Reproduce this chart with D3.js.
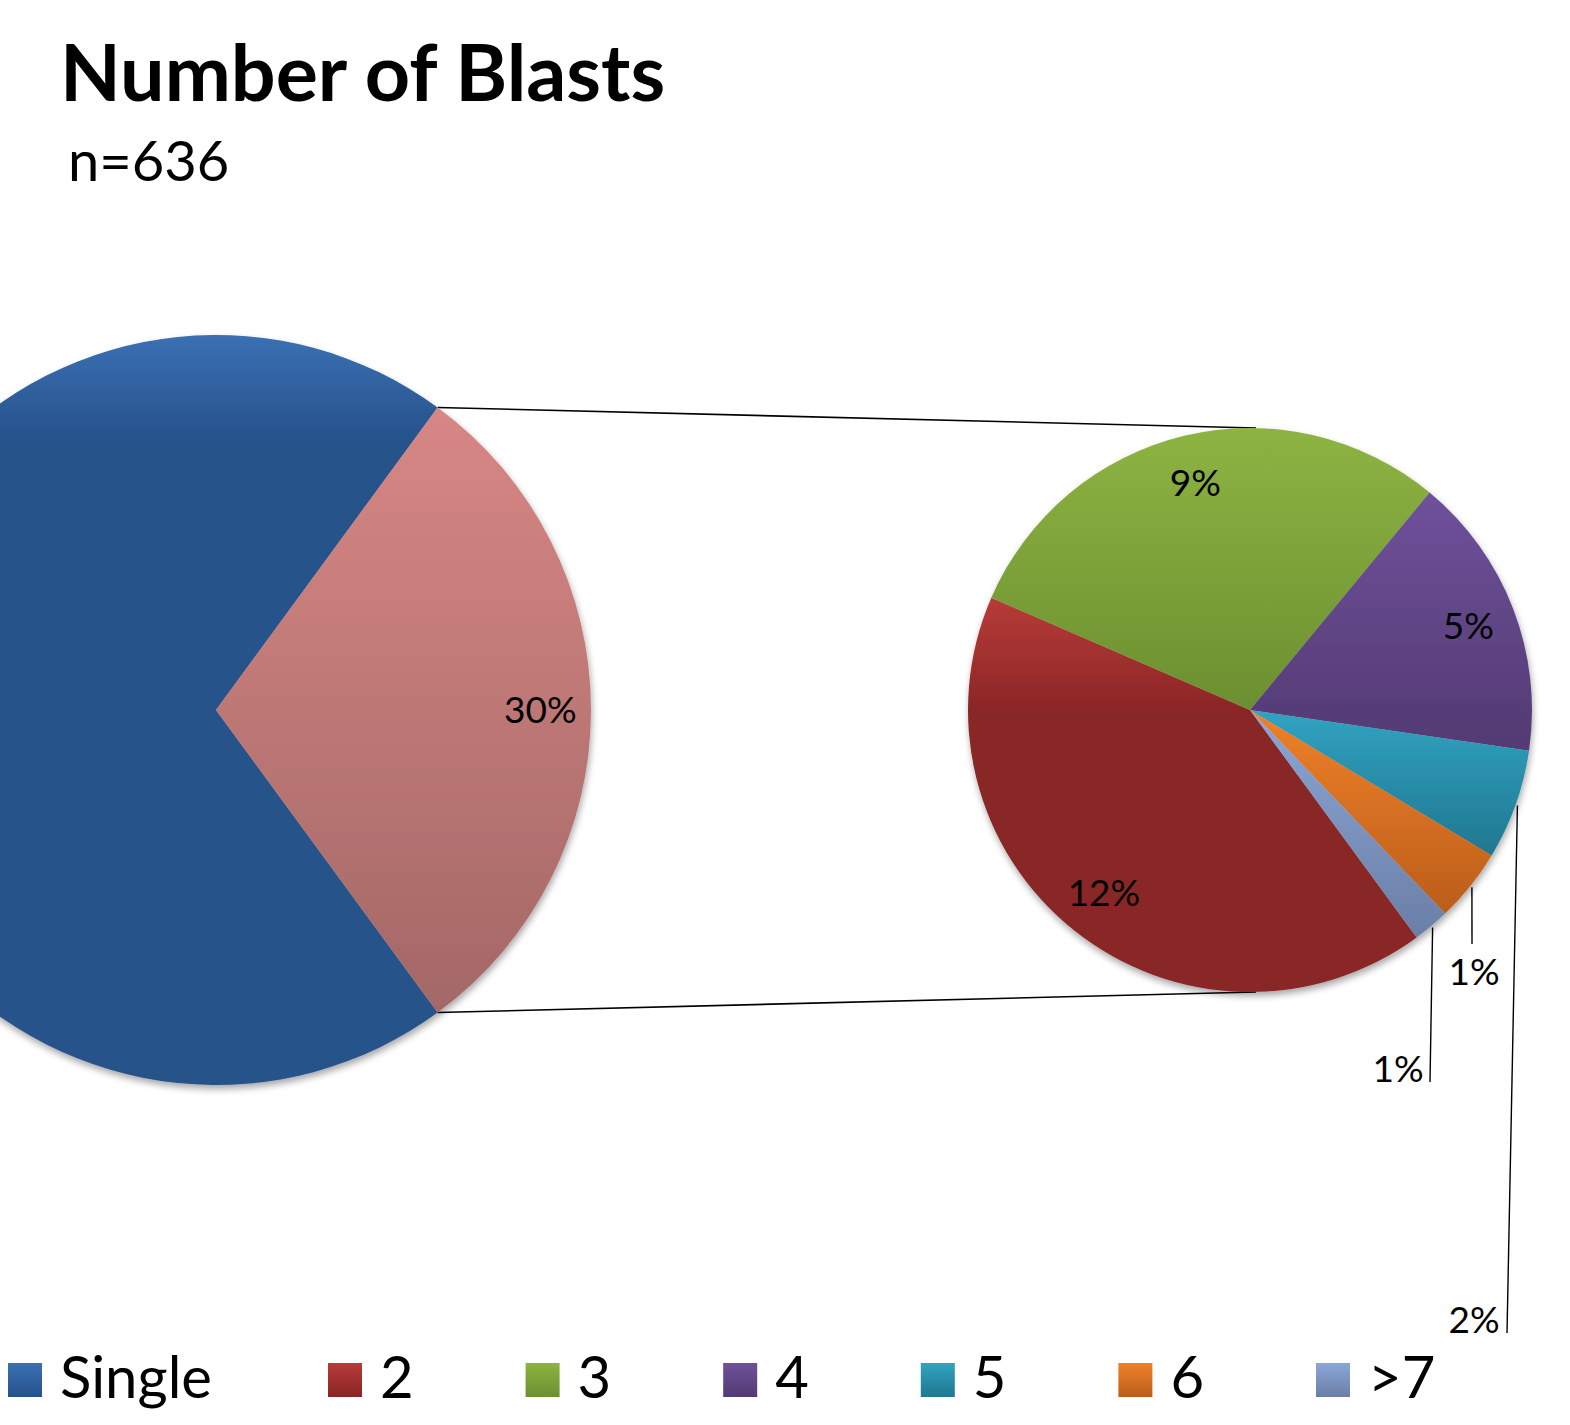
<!DOCTYPE html>
<html>
<head>
<meta charset="utf-8">
<script src="https://cdn.jsdelivr.net/npm/d3@7"></script>
<style>
  html, body { margin: 0; padding: 0; background: #ffffff; }
  svg { display: block; font-family: Lato, "Open Sans", sans-serif; }
</style>
</head>
<body>
<svg id="chart" width="1570" height="1425"></svg>
<script>
// Number of blasts per case (n = 636)
const categories = ["Single", "2", "3", "4", "5", "6", ">7"];
const counts = [446, 79, 56, 31, 12, 8, 4];
const otherName = "Other";

const titleText = "Number of Blasts";
const subtitleText = "n=636";

// Fill styles: light top colour, dark bottom colour, offset where the dark colour is reached
const fills = {
  "Single": { light: "#3a70b4", dark: "#26528a", end: 0.14 },
  "Other":  { light: "#d78785", dark: "#a36866", end: 1 },
  "2":      { light: "#b83b38", dark: "#892525", end: 0.3 },
  "3":      { light: "#8db442", dark: "#6c8f30", end: 1 },
  "4":      { light: "#6f519b", dark: "#523a72", end: 1 },
  "5":      { light: "#31a3c2", dark: "#1f778f", end: 1 },
  "6":      { light: "#ef8128", dark: "#bb5d1b", end: 1 },
  ">7":     { light: "#8ba7d8", dark: "#6a7fa6", end: 1 }
};

const W = 1570, H = 1425;
const svg = d3.select("#chart");
const defs = svg.append("defs");

// soft drop shadow under the pies
const shadow = defs.append("filter").attr("id", "pieShadow")
  .attr("x", "-10%").attr("y", "-10%").attr("width", "120%").attr("height", "125%");
shadow.append("feGaussianBlur").attr("in", "SourceAlpha").attr("stdDeviation", 3.5).attr("result", "blur");
shadow.append("feOffset").attr("in", "blur").attr("dx", 1).attr("dy", 4).attr("result", "off");
shadow.append("feComponentTransfer").attr("in", "off").attr("result", "shade")
  .append("feFuncA").attr("type", "linear").attr("slope", 0.35);
const merge = shadow.append("feMerge");
merge.append("feMergeNode").attr("in", "shade");
merge.append("feMergeNode").attr("in", "SourceGraphic");

function gradId(name, kind) { return "g-" + kind + "-" + (name === ">7" ? "gt7" : name); }
function addGradient(name, kind, end) {
  const f = fills[name];
  const g = defs.append("linearGradient").attr("id", gradId(name, kind))
    .attr("x1", 0).attr("y1", 0).attr("x2", 0).attr("y2", 1);
  g.append("stop").attr("offset", 0).attr("stop-color", f.light);
  g.append("stop").attr("offset", end).attr("stop-color", f.dark);
  g.append("stop").attr("offset", 1).attr("stop-color", f.dark);
}
Object.keys(fills).forEach(k => { addGradient(k, "slice", fills[k].end); addGradient(k, "key", 1); });

const total = d3.sum(counts);
const pct = v => Math.round(v / total * 100) + "%";

// split into the main pie (first category + "Other") and the secondary pie
const mainData = [
  { name: categories[0], value: counts[0] },
  { name: otherName, value: d3.sum(counts.slice(1)) }
];
const subData = categories.slice(1).map((c, i) => ({ name: c, value: counts[i + 1] }));
const otherFrac = mainData[1].value / total;
const start = Math.PI / 2 + otherFrac * Math.PI;

// geometry
const main = { cx: 216, cy: 710, r: 375, labelK: 0.865 };
const sub  = { cx: 1250, cy: 710, r: 282, labelK: 0.83 };

const pie = d3.pie().sort(null).value(d => d.value).startAngle(start).endAngle(start + 2 * Math.PI);
const mainArcs = pie(mainData);
const subArcs = pie(subData);

// connector lines from the "Other" slice edges to the secondary pie
const otherArc = mainArcs[1];
const edgePt = (c, a) => [c.cx + c.r * Math.sin(a), c.cy - c.r * Math.cos(a)];
const pTop = edgePt(main, otherArc.startAngle);
const pBot = edgePt(main, otherArc.endAngle);
svg.append("line").attr("x1", pTop[0]).attr("y1", pTop[1]).attr("x2", sub.cx + 6).attr("y2", sub.cy - sub.r)
  .attr("stroke", "#000").attr("stroke-width", 1.6);
svg.append("line").attr("x1", pBot[0]).attr("y1", pBot[1]).attr("x2", sub.cx + 6).attr("y2", sub.cy + sub.r)
  .attr("stroke", "#000").attr("stroke-width", 1.6);

function drawPie(conf, arcs) {
  const g = svg.append("g").attr("transform", `translate(${conf.cx},${conf.cy})`);
  const arc = d3.arc().innerRadius(0).outerRadius(conf.r);
  g.append("g").attr("filter", "url(#pieShadow)")
    .selectAll("path").data(arcs).join("path")
    .attr("d", arc)
    .attr("fill", d => `url(#${gradId(d.data.name, "slice")})`);
  return g;
}

const mainG = drawPie(main, mainArcs);
const subG = drawPie(sub, subArcs);

// labels placed inside the slices
const labelFont = 37;
function innerLabel(g, conf, d) {
  const la = d3.arc().innerRadius(conf.r * conf.labelK).outerRadius(conf.r * conf.labelK);
  const [x, y] = la.centroid(d);
  g.append("text").attr("x", x).attr("y", y).attr("dy", "0.36em")
    .attr("text-anchor", "middle").attr("font-size", labelFont).attr("fill", "#000")
    .text(pct(d.data.value));
}
innerLabel(mainG, main, mainArcs[1]);

// small slices get their labels outside with leader lines
const outside = {
  "5":  { x: 1474, y: 1333, lx: 1507, ly: 1333 },
  "6":  { x: 1474, y: 985,  lx: 1472, ly: 944 },
  ">7": { x: 1398, y: 1082, lx: 1430, ly: 1082 }
};
subArcs.forEach(d => {
  const o = outside[d.data.name];
  if (!o) { innerLabel(subG, sub, d); return; }
  const mid = (d.startAngle + d.endAngle) / 2;
  const p = edgePt({ cx: sub.cx, cy: sub.cy, r: sub.r + 2 }, mid);
  svg.append("line").attr("x1", p[0]).attr("y1", p[1]).attr("x2", o.lx).attr("y2", o.ly)
    .attr("stroke", "#000").attr("stroke-width", 1.4);
  svg.append("text").attr("x", o.x).attr("y", o.y)
    .attr("text-anchor", "middle").attr("font-size", labelFont).attr("fill", "#000")
    .text(pct(d.data.value));
});

// title
svg.append("text").attr("x", 60).attr("y", 101)
  .attr("font-size", 79).attr("font-weight", 700).attr("fill", "#000").text(titleText);
svg.append("text").attr("x", 68).attr("y", 181)
  .attr("font-size", 56).attr("fill", "#000").text(subtitleText);

// legend
const legend = svg.append("g");
const keyX = i => i === 0 ? 8 : 328 + (i - 1) * 197.6;
const items = legend.selectAll("g").data(categories).join("g")
  .attr("transform", (d, i) => `translate(${keyX(i)},1363)`);
items.append("rect").attr("width", 34).attr("height", 34)
  .attr("fill", d => `url(#${gradId(d, "key")})`);
items.append("text").attr("x", 52).attr("y", 35)
  .attr("font-size", 58).attr("fill", "#000").text(d => d);
</script>
</body>
</html>
